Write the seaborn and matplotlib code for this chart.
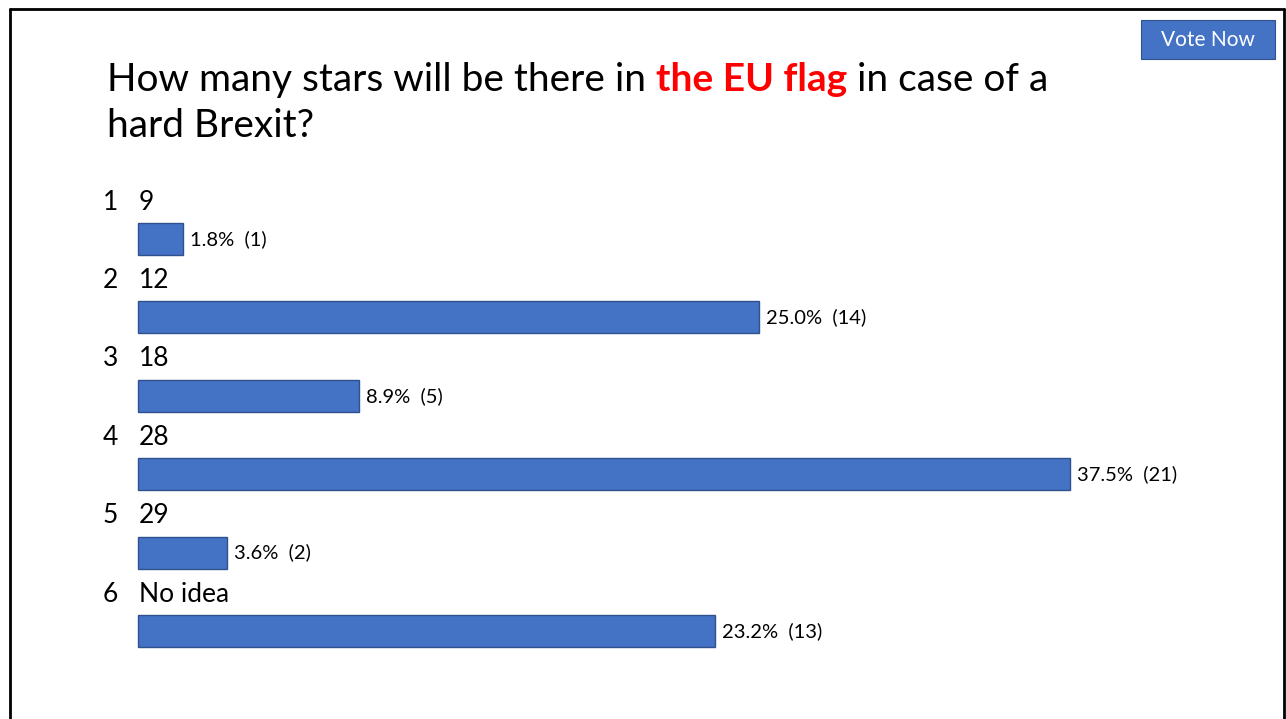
import pandas as pd
import seaborn as sns
import matplotlib.pyplot as plt
from matplotlib.patches import Rectangle
from matplotlib.lines import Line2D

# poll data
options = ["9", "12", "18", "28", "29", "No idea"]
percents = [1.8, 25.0, 8.9, 37.5, 3.6, 23.2]
counts = [1, 14, 5, 21, 2, 13]

title_parts = [
    ("How many stars will be there in ", "black", "normal"),
    ("the EU flag", "#FF0000", "bold"),
    (" in case of a", "black", "normal"),
]
title_line2 = "hard Brexit?"

W, H = 1286, 719
BAR_COLOR = "#4472C4"
EDGE_COLOR = "#2F528F"
FONT = "Lato"

sns.set_style("white")
plt.rcParams["font.family"] = [FONT, "DejaVu Sans"]
plt.rcParams["text.color"] = "black"

fig = plt.figure(figsize=(W / 100, H / 100), dpi=100)
ax = fig.add_axes([0, 0, 1, 1])

df = pd.DataFrame({"option": options, "pct": percents, "n": counts})

sns.barplot(data=df, x="pct", y="option", orient="h", color=BAR_COLOR,
            edgecolor=EDGE_COLOR, linewidth=1, width=0.41, saturation=1, ax=ax)

# map data to slide pixels: x=0 at px 138, 24.85 px per %, rows 78.4 px apart
px_per_pct = 24.85
x0 = 138
ax.set_xlim(-x0 / px_per_pct, (W - x0) / px_per_pct)
row_px = 78.4
y0 = 239
ax.set_ylim((H - y0) / row_px, -y0 / row_px)
ax.axis("off")

for i, row in df.iterrows():
    ax.text(row["pct"] + 7 / px_per_pct, i, f"{row['pct']:.1f}%  ({row['n']})",
            va="center", ha="left", fontsize=14.5, color="black")
    ax.text(-35 / px_per_pct, i - 0.47, str(i + 1), va="center", ha="left",
            fontsize=19, color="black")
    ax.text(1 / px_per_pct, i - 0.47, row["option"], va="center", ha="left",
            fontsize=19, color="black")

# title with coloured middle part
renderer = fig.canvas.get_renderer()
x = 107 / W
for txt, col, wt in title_parts:
    t = fig.text(x, 1 - 91 / H, txt, color=col, fontweight=wt, fontsize=28,
                 va="baseline", ha="left")
    bb = t.get_window_extent(renderer)
    x = bb.x1 / W
fig.text(107 / W, 1 - 137 / H, title_line2, fontsize=28, color="black",
         va="baseline", ha="left")

# "Vote Now" button
fig.patches.append(Rectangle((1141 / W, 1 - 59 / H), 134 / W, 39 / H,
                             transform=fig.transFigure, facecolor=BAR_COLOR,
                             edgecolor=EDGE_COLOR, linewidth=0.8))
fig.text(1208 / W, 1 - 40 / H, "Vote Now", color="white", fontsize=15,
         ha="center", va="center")

# slide border (left, top, right)
for xs, ys in [([9.5, 9.5], [H, 8.5]), ([9.5, 1283.5], [8.5, 8.5]),
               ([1283.5, 1283.5], [8.5, H])]:
    fig.lines.append(Line2D([v / W for v in xs], [1 - v / H for v in ys],
                            transform=fig.transFigure, color="black", linewidth=2))

fig.savefig("out.png", dpi=100)
